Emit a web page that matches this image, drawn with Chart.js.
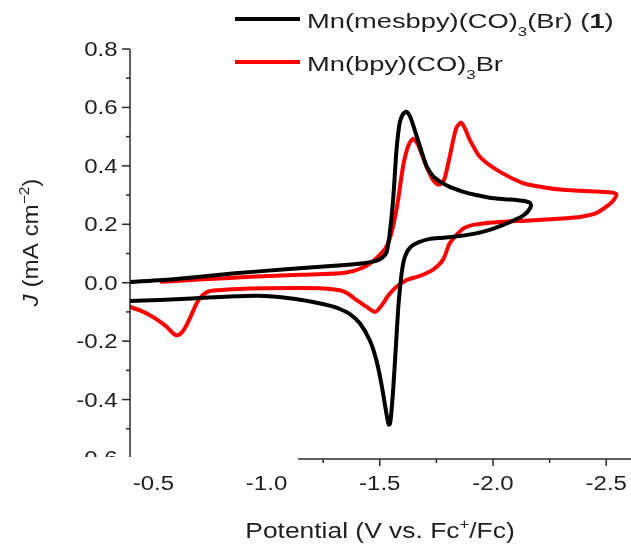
<!DOCTYPE html>
<html>
<head>
<meta charset="utf-8">
<script src="https://cdn.jsdelivr.net/npm/chart.js@4.4.1/dist/chart.umd.min.js"></script>
<style>
  body { margin: 0; background: #fff; }
</style>
</head>
<body>
<canvas id="chart" width="631" height="547"></canvas>
<script>
// Cyclic voltammograms, potential in V vs Fc+/Fc, current density in mA cm^-2
const mesbpyV = [-0.39, -0.60, -0.86, -1.10, -1.346, -1.43, -1.48, -1.51, -1.53, -1.544, -1.559, -1.574, -1.588, -1.603, -1.618, -1.633, -1.647, -1.676, -1.706, -1.735, -1.765, -1.809, -1.866, -1.925, -1.985, -2.05, -2.103, -2.14, -2.162, -2.168,
  -2.155, -2.13, -2.09, -2.04, -1.985, -1.92, -1.853, -1.78, -1.721, -1.67, -1.64, -1.62, -1.606, -1.598, -1.593, -1.582, -1.571, -1.559, -1.550, -1.545, -1.540, -1.535, -1.522, -1.507, -1.485, -1.456, -1.412, -1.37, -1.324, -1.287, -1.199, -1.11, -0.963, -0.82, -0.669, -0.53, -0.39];
const mesbpyJ = [0.002, 0.013, 0.032, 0.047, 0.061, 0.067, 0.074, 0.085, 0.104, 0.169, 0.284, 0.455, 0.547, 0.578, 0.585, 0.570, 0.540, 0.470, 0.400, 0.365, 0.347, 0.328, 0.312, 0.300, 0.291, 0.286, 0.283, 0.280, 0.274, 0.264,
  0.245, 0.228, 0.213, 0.196, 0.181, 0.168, 0.160, 0.154, 0.150, 0.138, 0.125, 0.105, 0.075, 0.040, 0.009, -0.082, -0.220, -0.368, -0.455, -0.483, -0.486, -0.472, -0.414, -0.345, -0.265, -0.197, -0.139, -0.108, -0.090, -0.080, -0.065, -0.054, -0.045, -0.048, -0.054, -0.059, -0.063];

const bpyV = [-0.537, -0.70, -0.93, -1.15, -1.346, -1.426, -1.485, -1.530, -1.559, -1.581, -1.603, -1.625, -1.647, -1.669, -1.706, -1.735, -1.757, -1.773, -1.787, -1.809, -1.838, -1.860, -1.878, -1.897, -1.941, -2.015, -2.132, -2.22, -2.309, -2.456, -2.523, -2.545,
  -2.535, -2.514, -2.456, -2.39, -2.309, -2.162, -2.015, -1.912, -1.875, -1.853, -1.809, -1.779, -1.734, -1.676, -1.618, -1.574, -1.535, -1.515, -1.490, -1.478, -1.465, -1.441, -1.397, -1.36, -1.324, -1.235, -1.0, -0.853, -0.765, -0.735, -0.715, -0.691, -0.662, -0.640, -0.620, -0.605, -0.590, -0.559, -0.520, -0.485, -0.441, -0.39];
const bpyJ = [0.003, 0.011, 0.020, 0.027, 0.034, 0.052, 0.084, 0.124, 0.192, 0.284, 0.398, 0.467, 0.493, 0.472, 0.398, 0.352, 0.336, 0.340, 0.358, 0.432, 0.530, 0.548, 0.525, 0.490, 0.432, 0.387, 0.341, 0.327, 0.318, 0.312, 0.309, 0.303,
  0.285, 0.268, 0.238, 0.226, 0.220, 0.213, 0.207, 0.198, 0.188, 0.175, 0.135, 0.078, 0.044, 0.023, 0.009, -0.014, -0.046, -0.071, -0.095, -0.100, -0.095, -0.082, -0.059, -0.038, -0.026, -0.019, -0.019, -0.022, -0.027, -0.033, -0.045, -0.071, -0.121, -0.155, -0.175, -0.180, -0.175, -0.151, -0.128, -0.111, -0.095, -0.081];

const xTicks = [-0.5, -1.0, -1.5, -2.0, -2.5];
const xMinor = [-0.75, -1.25, -1.75, -2.25];
const yTicks = [0.8, 0.6, 0.4, 0.2, 0.0, -0.2, -0.4, -0.6];
const yMinor = [0.7, 0.5, 0.3, 0.1, -0.1, -0.3, -0.5];

// legend entries as text runs: [text, style]
const seriesNames = [
  [['Mn(mesbpy)(CO)', ''], ['3', 'sub'], ['(Br) (', ''], ['1', 'b'], [')', '']],
  [['Mn(bpy)(CO)', ''], ['3', 'sub'], ['Br', '']]
];
const seriesColors = ['#000000', '#ff0000'];
const xTitle = [['Potential (V vs. Fc', ''], ['+', 'sup'], ['/Fc)', '']];
const yTitle = [['J', 'i'], [' (mA cm', ''], ['\u22122', 'sup'], [')', '']];

const FONT = "'Liberation Sans', Arial, sans-serif";

function zip(a, b) {
  return a.map((v, i) => ({x: v, y: b[i]}));
}

function fontFor(kind, size) {
  if (kind === 'sub' || kind === 'sup') return Math.round(size * 0.62) + 'px ' + FONT;
  if (kind === 'b') return 'bold ' + size + 'px ' + FONT;
  if (kind === 'i') return 'italic ' + size + 'px ' + FONT;
  return size + 'px ' + FONT;
}

// draws a run of text pieces with sub/superscripts, stretched horizontally by sx
function drawRich(ctx, parts, x, y, size, align, sx, rot) {
  ctx.save();
  ctx.translate(x, y);
  if (rot) ctx.rotate(rot);
  ctx.scale(sx, 1);
  ctx.textBaseline = 'alphabetic';
  ctx.textAlign = 'left';
  const widths = parts.map(p => { ctx.font = fontFor(p[1], size); return ctx.measureText(p[0]).width; });
  const total = widths.reduce((s, w) => s + w, 0);
  let cx = align === 'center' ? -total / 2 : (align === 'right' ? -total : 0);
  parts.forEach((p, i) => {
    ctx.font = fontFor(p[1], size);
    let dy = 0;
    if (p[1] === 'sub') dy = size * 0.4;
    if (p[1] === 'sup') dy = -size * 0.42;
    ctx.fillText(p[0], cx, dy);
    cx += widths[i];
  });
  ctx.restore();
}

function seg(ctx, x1, y1, x2, y2) {
  ctx.beginPath();
  ctx.moveTo(x1, y1);
  ctx.lineTo(x2, y2);
  ctx.stroke();
}

function fmt(v) {
  return Math.abs(v) < 1e-9 ? '0.0' : v.toFixed(1);
}

const axisDecor = {
  id: 'axisDecor',
  afterDraw(chart) {
    const {ctx, chartArea: a, scales: {x, y}} = chart;
    ctx.save();
    ctx.strokeStyle = '#2a2a2a';
    ctx.lineWidth = 1.5;
    ctx.lineCap = 'butt';

    // left axis
    seg(ctx, a.left, a.top, a.left, a.bottom);
    yTicks.forEach(v => { const py = y.getPixelForValue(v); seg(ctx, a.left - 8, py, a.left, py); });
    yMinor.forEach(v => { const py = y.getPixelForValue(v); seg(ctx, a.left - 4, py, a.left, py); });

    // bottom axis
    const by = a.bottom + 1;
    seg(ctx, a.left, by, a.right + 2, by);
    xTicks.forEach(v => { const px = x.getPixelForValue(v); seg(ctx, px, by, px, by + 7); });
    xMinor.forEach(v => { const px = x.getPixelForValue(v); seg(ctx, px, by, px, by + 4); });

    ctx.fillStyle = '#1e1e1e';
    yTicks.forEach(v => drawRich(ctx, [[fmt(v), '']], a.left - 12.5, y.getPixelForValue(v) + 7, 20, 'right', 1.2));
    xTicks.forEach(v => drawRich(ctx, [[fmt(v), '']], x.getPixelForValue(v), 490, 20, 'center', 1.2));

    // the strip under the lower-left part of the frame is left blank
    ctx.fillStyle = '#ffffff';
    ctx.fillRect(0, 457, 298, 13);

    ctx.fillStyle = '#1e1e1e';
    drawRich(ctx, xTitle, (a.left + a.right) / 2, 538, 22, 'center', 1.2);
    drawRich(ctx, yTitle, 38, 242.5, 22, 'center', 1.1, -Math.PI / 2);

    // legend
    const rows = [19, 62];
    seriesNames.forEach((parts, i) => {
      ctx.strokeStyle = seriesColors[i];
      ctx.lineWidth = 4;
      seg(ctx, 235, rows[i], 300, rows[i]);
      ctx.fillStyle = '#1e1e1e';
      drawRich(ctx, parts, 307, rows[i] + 8.5, 21, 'left', 1.3);
    });
    ctx.restore();
  }
};

new Chart(document.getElementById('chart'), {
  type: 'scatter',
  data: {
    datasets: [
      {
        label: 'Mn(mesbpy)(CO)3(Br) (1)',
        data: zip(mesbpyV, mesbpyJ),
        showLine: true,
        borderColor: seriesColors[0],
        borderWidth: 4,
        pointRadius: 0,
        tension: 0.25,
        borderCapStyle: 'round',
        borderJoinStyle: 'round'
      },
      {
        label: 'Mn(bpy)(CO)3Br',
        data: zip(bpyV, bpyJ),
        showLine: true,
        borderColor: seriesColors[1],
        borderWidth: 4,
        pointRadius: 0,
        tension: 0.25,
        borderCapStyle: 'round',
        borderJoinStyle: 'round'
      }
    ]
  },
  options: {
    responsive: false,
    animation: false,
    devicePixelRatio: 1,
    layout: { padding: { top: 49, right: 1, bottom: 0, left: 0 } },
    plugins: { legend: { display: false }, tooltip: { enabled: false } },
    scales: {
      x: {
        type: 'linear',
        reverse: true,
        min: -2.605,
        max: -0.397,
        ticks: { display: false },
        grid: { display: false },
        border: { display: false },
        afterFit: s => { s.height = 89; }
      },
      y: {
        min: -0.6,
        max: 0.8,
        ticks: { display: false },
        grid: { display: false },
        border: { display: false },
        afterFit: s => { s.width = 130; }
      }
    }
  },
  plugins: [axisDecor]
});
</script>
</body>
</html>
